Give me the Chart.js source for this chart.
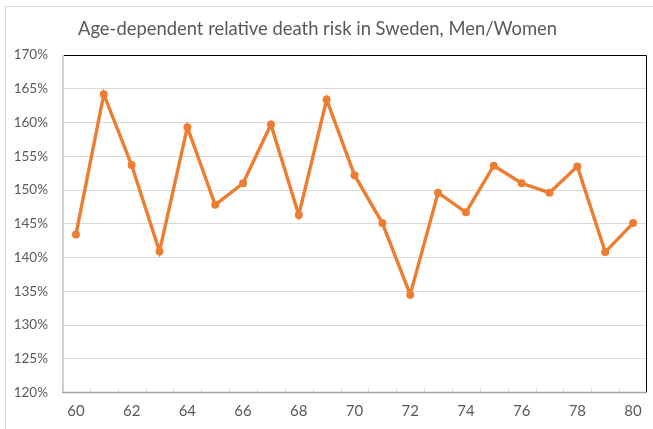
<!DOCTYPE html>
<html>
<head>
<meta charset="utf-8">
<script src="https://cdn.jsdelivr.net/npm/chart.js@4"></script>
<style>
  html, body { margin: 0; padding: 0; background: #fff; }
  #wrap { position: relative; width: 653px; height: 429px; overflow: hidden; }
  #frame { position: absolute; left: 5px; top: 6px; width: 660px; height: 440px; border: 1px solid #d9d9d9; pointer-events: none; }
  #title { position: absolute; left: 78px; top: 17px; font-family: Lato, "Open Sans", sans-serif; font-size: 18.4px; line-height: 22px; color: #595959; white-space: nowrap; }
  canvas { position: absolute; left: 0; top: 0; }
</style>
</head>
<body>
<div id="wrap">
  <canvas id="c" width="653" height="429"></canvas>
  <div id="frame"></div>
  <div id="title"></div>
</div>
<script>
const ages = [60,61,62,63,64,65,66,67,68,69,70,71,72,73,74,75,76,77,78,79,80];
const riskRatio = [143.4,164.2,153.7,140.9,159.3,147.8,151.0,159.7,146.3,163.4,152.2,145.1,134.5,149.6,146.7,153.6,151.0,149.6,153.5,140.8,145.1];
const yTicks = [120,125,130,135,140,145,150,155,160,165,170];
const titleText = 'Age-dependent relative death risk in Sweden, Men/Women';
document.getElementById('title').textContent = titleText;

const frameLines = {
  id: 'frameLines',
  afterDraw(chart) {
    const {ctx, chartArea: a, scales} = chart;
    ctx.save();
    const xs = scales.x;
    ctx.strokeStyle = '#d9d9d9';
    ctx.lineWidth = 1;
    for (let i = 1; i < ages.length; i++) {
      const px = Math.round((xs.getPixelForValue(i - 1) + xs.getPixelForValue(i)) / 2) + 0.5;
      ctx.beginPath(); ctx.moveTo(px, a.bottom); ctx.lineTo(px, a.bottom - 4); ctx.stroke();
    }
    ctx.strokeStyle = '#000';
    ctx.lineWidth = 1;
    ctx.beginPath();
    ctx.moveTo(a.left, a.top + 0.5); ctx.lineTo(a.right - 0.5, a.top + 0.5); ctx.lineTo(a.right - 0.5, a.bottom);
    ctx.stroke();
    ctx.strokeStyle = '#d0d0d0';
    ctx.lineWidth = 2;
    ctx.beginPath(); ctx.moveTo(a.left + 1, a.top); ctx.lineTo(a.left + 1, a.bottom); ctx.stroke();
    ctx.strokeStyle = '#a6a6a6';
    ctx.lineWidth = 1.5;
    ctx.beginPath(); ctx.moveTo(a.left, a.bottom); ctx.lineTo(a.right, a.bottom); ctx.stroke();
    ctx.restore();
  }
};

new Chart(document.getElementById('c'), {
  type: 'line',
  data: {
    labels: ages.map(String),
    datasets: [{
      data: riskRatio,
      borderColor: '#ED7D31',
      backgroundColor: '#ED7D31',
      borderWidth: 3.4,
      pointRadius: 2.3,
      pointHoverRadius: 2.3,
      tension: 0,
      fill: false
    }]
  },
  options: {
    responsive: false,
    animation: false,
    devicePixelRatio: 1,
    layout: { padding: { left: 0, right: 6, top: 55, bottom: 0 } },
    plugins: {
      legend: { display: false },
      tooltip: { enabled: false },
      title: { display: false }
    },
    scales: {
      x: {
        type: 'category',
        offset: true,
        grid: { display: false, drawTicks: false },
        border: { display: false },
        ticks: {
          color: '#595959',
          font: { family: 'Lato, "Open Sans", sans-serif', size: 15 },
          autoSkip: false,
          maxRotation: 0,
          padding: 10,
          callback: function(v, i) { return ages[i] % 2 === 0 ? String(ages[i]) : ''; }
        },
        afterFit(s) { s.height = 36.5; }
      },
      y: {
        min: 120, max: 170,
        grid: { color: '#d9d9d9', lineWidth: 1, drawTicks: false },
        border: { display: false },
        afterBuildTicks(s) { s.ticks = yTicks.map(v => ({ value: v })); },
        ticks: {
          color: '#595959',
          font: { family: 'Lato, "Open Sans", sans-serif', size: 13.5 },
          padding: 14,
          callback: v => v + '%'
        },
        afterFit(s) { s.width = 62; }
      }
    }
  },
  plugins: [frameLines]
});
</script>
</body>
</html>
